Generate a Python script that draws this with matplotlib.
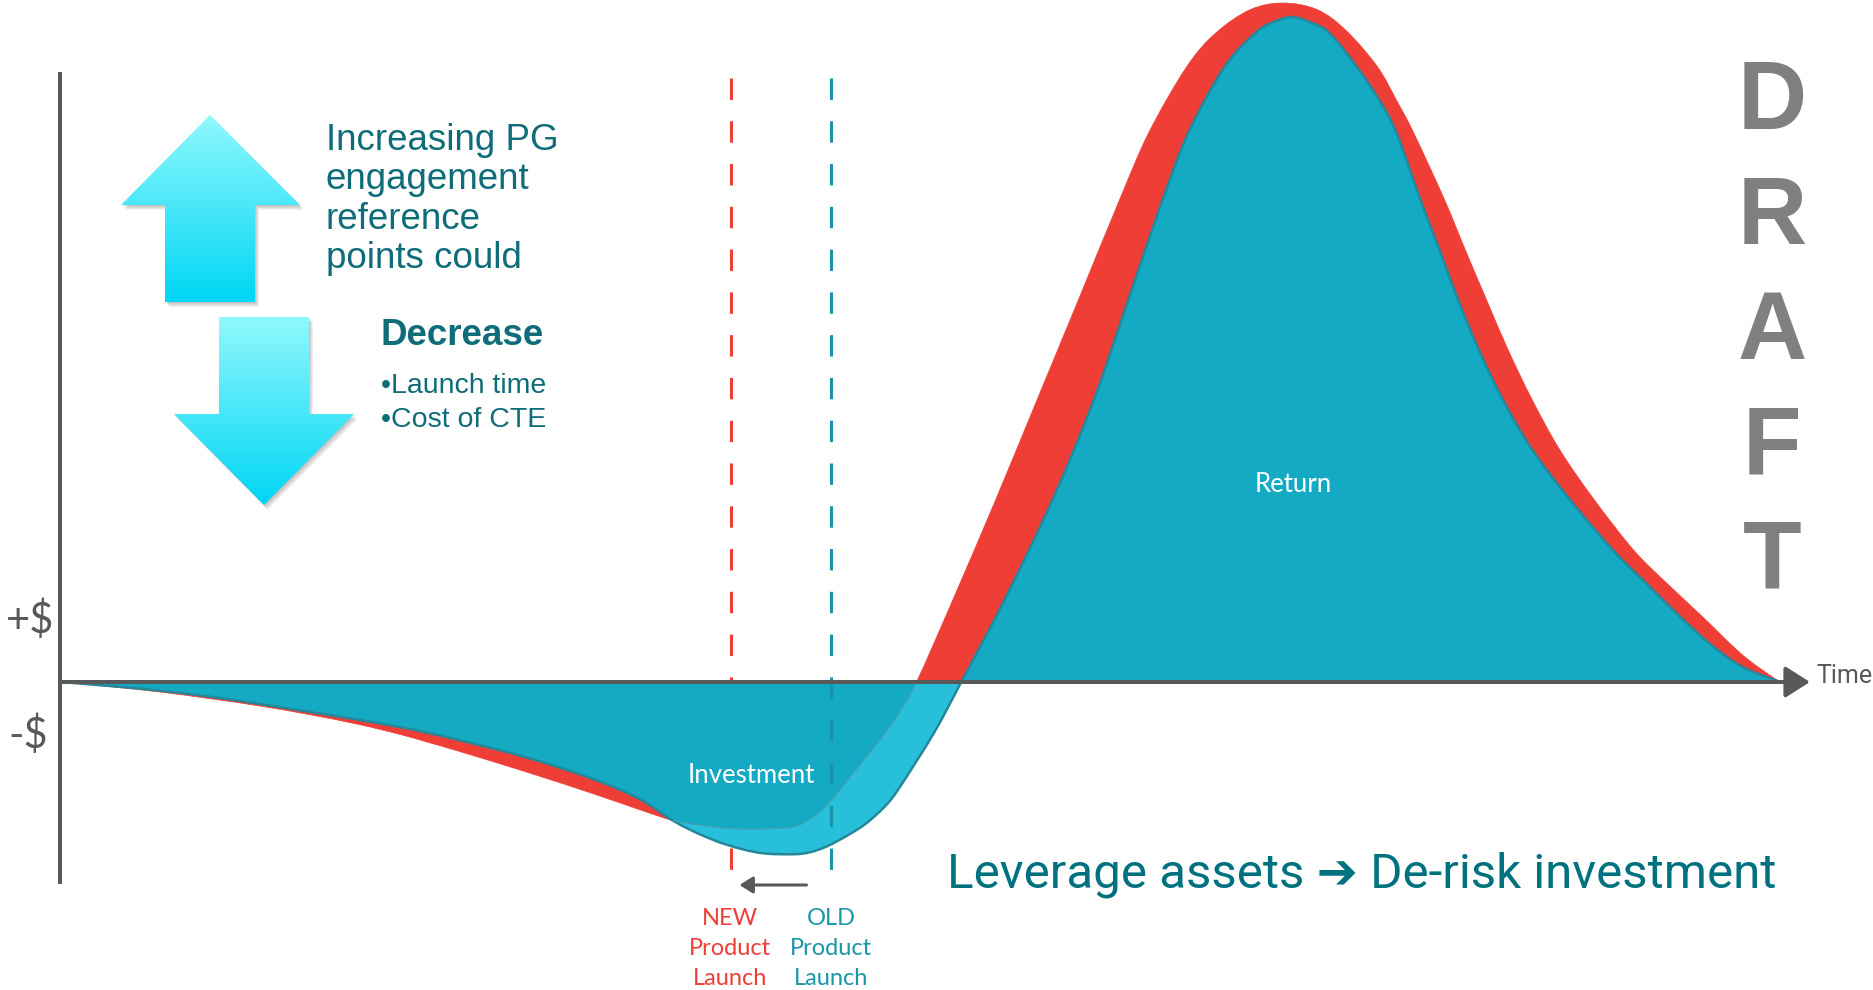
import numpy as np
import matplotlib
matplotlib.use('Agg')

import matplotlib.pyplot as plt
from matplotlib.patches import Polygon, FancyArrowPatch, PathPatch
from matplotlib.path import Path
from matplotlib.colors import LinearSegmentedColormap


# cash curves: time 0..100, value scaled so the old peak = 100
new_t = [0, 2.9, 5.8, 8.7, 11.6, 14.5, 17.4, 19.8, 21.3, 23.3, 27.2, 31.0, 33.7, 35.6,
         37.2, 38.8, 40.7, 42.6, 43.6, 44.6, 45.9, 46.9, 48.0, 48.8, 49.8, 51.9, 54.4,
         56.8, 59.2, 61.6, 63.3, 65.5, 67.2, 69.2, 71.1, 73.1, 74.8, 76.6, 77.7, 78.7,
         80.5, 81.7, 83.0, 84.2, 85.6, 87.2, 89.2, 91.5, 93.4, 95.5, 97.5, 98.7, 100]
new_v = [0, -0.7, -1.5, -2.5, -3.6, -4.9, -6.4, -7.9, -9.0, -10.5, -13.6, -16.8, -19.2, -20.8,
         -21.5, -22.0, -22.1, -21.8, -20.6, -18.5, -14.4, -11.2, -7.6, -4.6, 0, 12.3, 27.4,
         42.4, 57.4, 72.5, 82.6, 92.5, 97.6, 101.1, 102.1, 101.1, 97.9, 92.5, 87.5, 82.6,
         72.5, 65.0, 57.1, 49.9, 42.4, 34.9, 27.4, 19.8, 14.9, 9.8, 4.8, 2.3, 0]

old_t = [0, 2.9, 5.8, 8.7, 11.6, 14.5, 17.4, 19.8, 21.3, 23.3, 27.2, 31.0, 33.7, 35.6,
         37.2, 38.8, 40.7, 42.6, 43.6, 44.6, 45.9, 46.9, 48.0, 48.8, 50.8, 52.4, 54.9,
         57.7, 60.1, 62.1, 64.1, 65.6, 67.7, 69.5, 70.5, 71.6, 72.7, 73.8, 75.4, 76.7,
         77.7, 79.1, 80.2, 81.3, 82.5, 83.9, 85.6, 87.8, 90.3, 92.2, 94.2, 96.0, 97.8, 100]
old_v = [0, -0.6, -1.3, -2.2, -3.3, -4.5, -5.7, -6.8, -7.6, -8.8, -11.4, -14.6, -17.6, -20.8,
         -22.9, -24.5, -25.7, -25.9, -25.6, -24.7, -22.9, -21.2, -18.6, -15.9, -7.7, 0, 12.3,
         27.4, 42.4, 57.4, 72.5, 82.6, 92.5, 97.6, 99.2, 100, 99.2, 97.6, 92.5, 87.5,
         82.6, 72.5, 65.0, 57.4, 49.9, 42.4, 34.9, 27.4, 19.8, 14.9, 9.8, 5.6, 2.3, 0]

cross_t = 35.6      # where the two investment curves cross
launch_new = 39.0
launch_old = 44.8

new_label = ['NEW', 'Product', 'Launch']
old_label = ['OLD', 'Product', 'Launch']
intro_lines = ['Increasing PG', 'engagement', 'reference', 'points could']
decrease_items = ['•Launch time', '•Cost of CTE']
draft_word = 'DRAFT'

RED = '#ef3e36'
TEAL = '#14aac4'
CYAN = '#27bfd9'
EDGE = '#25889a'
AXIS = '#58595b'
TXT = '#0e6d78'
OLDTXT = '#1996a8'


def bezier_segments(t, v):
    # smooth cubic pieces through the read points (Catmull-Rom handles)
    p = np.column_stack([t, v]).astype(float)
    q = np.vstack([p[0], p, p[-1]])
    segs = []
    for i in range(len(p) - 1):
        a, b = q[i + 1], q[i + 2]
        segs.append((a, a + (q[i + 2] - q[i]) / 6, b - (q[i + 3] - q[i + 1]) / 6, b))
    return segs


def build_path(seg_lists, close=False):
    verts = [seg_lists[0][0][0]]
    codes = [Path.MOVETO]
    for segs in seg_lists:
        for a, c1, c2, b in segs:
            verts += [c1, c2, b]
            codes += [Path.CURVE4] * 3
    if close:
        verts.append(verts[0])
        codes.append(Path.CLOSEPOLY)
    return Path(verts, codes)


W, H = 1874, 990
fig = plt.figure(figsize=(W / 100, H / 100), dpi=100)

# chart axes: t=0 at px 60, t=100 at px 1780, v=0 at py 682
PX_T, PX_V, X0, Y0 = 17.2, 6.65, 60, 682
ax = fig.add_axes([0, 0, 1, 1])
ax.set_xlim(-X0 / PX_T, (W - X0) / PX_T)
ax.set_ylim(-(H - Y0) / PX_V, Y0 / PX_V)
ax.axis('off')

new_segs = bezier_segments(new_t, new_v)
old_segs = bezier_segments(old_t, old_v)
i_cross_new = new_t.index(cross_t)
i_cross_old = old_t.index(cross_t)
i_zero_new = [i for i in range(1, len(new_v) - 1) if new_v[i] == 0][0]
i_zero_old = [i for i in range(1, len(old_v) - 1) if old_v[i] == 0][0]

# new launch, whole area
ax.add_patch(PathPatch(build_path([new_segs], close=True), fc=RED, ec=RED, lw=0.5, zorder=2))
# old launch, investment lobe
ax.add_patch(PathPatch(build_path([old_segs[:i_zero_old]], close=True), fc=CYAN, ec=CYAN, lw=0.5, zorder=3))
# old launch, return lobe
ax.add_patch(PathPatch(build_path([old_segs[i_zero_old:]], close=True), fc=TEAL, ec=TEAL, lw=0.5, zorder=4))
# shared investment (shallower of both curves)
ax.add_patch(PathPatch(build_path([old_segs[:i_cross_old], new_segs[i_cross_new:i_zero_new]], close=True),
                       fc=TEAL, ec=TEAL, lw=0.5, zorder=4))

ax.add_patch(PathPatch(build_path([old_segs]), fc='none', ec=EDGE, lw=1.8, zorder=5))
ax.add_patch(PathPatch(build_path([new_segs[i_cross_new:i_zero_new]]), fc='none', ec='#4b9fae', lw=0.8, zorder=5))

# launch markers
v_top, v_bot = (Y0 - 78) / PX_V, (Y0 - 884) / PX_V
ax.plot([launch_new, launch_new], [v_top, v_bot], color=RED, lw=2.2, ls=(0, (7, 7)), zorder=1)
ax.plot([launch_old, launch_old], [v_top, v_bot], color='#1a93a6', lw=2.2, ls=(0, (7, 7)), zorder=6)

# axes
ax.plot([0, 0], [(Y0 - 72) / PX_V, v_bot], color=AXIS, lw=2.9, solid_capstyle='butt', zorder=7)
ax.add_patch(FancyArrowPatch((0, 0), ((1810 - X0) / PX_T, 0),
                             arrowstyle='-|>,head_length=15,head_width=9.5', mutation_scale=1,
                             color=AXIS, lw=2.9, shrinkA=0, shrinkB=0, zorder=7))
ax.add_patch(FancyArrowPatch((launch_old - 1.4, (Y0 - 885) / PX_V), (launch_new + 0.5, (Y0 - 885) / PX_V),
                             arrowstyle='-|>,head_length=8,head_width=5', mutation_scale=1,
                             color=AXIS, lw=2.2, shrinkA=0, shrinkB=0, zorder=7))

# overlay in pixel coordinates for the annotations
deco = fig.add_axes([0, 0, 1, 1])
deco.axis('off')
deco.patch.set_alpha(0)

up_arrow = [(210, 115), (300, 205), (255, 205), (255, 302), (165, 302), (165, 205), (121, 205)]
down_arrow = [(219, 317), (309, 317), (309, 414), (354, 414), (264, 505), (174, 414), (219, 414)]
cmap = LinearSegmentedColormap.from_list('arr', ['#90f8fc', '#00d6f5'])
grad = np.linspace(0, 1, 256).reshape(-1, 1)
for pts in (up_arrow, down_arrow):
    xs, ys = zip(*pts)
    for k in range(1, 6):
        deco.add_patch(Polygon([(x + k * 0.8, y + k * 1.0) for x, y in pts], closed=True,
                               fc='black', alpha=0.05, lw=0, zorder=1))
    poly = Polygon(pts, closed=True, fc='none', lw=0)
    deco.add_patch(poly)
    im = deco.imshow(grad, cmap=cmap, extent=(min(xs), max(xs), max(ys), min(ys)),
                     aspect='auto', origin='upper', zorder=2)
    im.set_clip_path(poly)

deco.set_xlim(0, W)
deco.set_ylim(H, 0)

sans = ['Liberation Sans', 'DejaVu Sans']
for i, line in enumerate(intro_lines):
    deco.text(326, 150 + 39.3 * i, line, ha='left', va='baseline', fontsize=26.5, color=TXT, family=sans)
deco.text(381, 345, 'Decrease', ha='left', va='baseline', fontsize=26.5, fontweight='bold', color=TXT, family=sans)
for i, line in enumerate(decrease_items):
    deco.text(381, 393 + 34 * i, line, ha='left', va='baseline', fontsize=20.5, color=TXT, family=sans)

deco.text(54, 620, '+$', ha='right', va='center', fontsize=30, color=AXIS, family='Lato')
deco.text(48, 735, '-$', ha='right', va='center', fontsize=30, color=AXIS, family='Lato')
deco.text(1816, 676, 'Time', ha='left', va='center', fontsize=18, color=AXIS, family='Roboto')

deco.text(751, 783, 'Investment', ha='center', va='baseline', fontsize=18.5, color='white', family='Lato')
deco.text(1293, 492, 'Return', ha='center', va='baseline', fontsize=18.5, color='white', family='Lato')

for i, (a, b) in enumerate(zip(new_label, old_label)):
    deco.text(730, 925 + 30 * i, a, ha='center', va='baseline', fontsize=17, color=RED, family='Lato')
    deco.text(831, 925 + 30 * i, b, ha='center', va='baseline', fontsize=17, color=OLDTXT, family='Lato')

deco.text(947, 888, 'Leverage assets ➔ De-risk investment', ha='left', va='baseline',
          fontsize=35.5, color='#00717e', family=['Roboto', 'DejaVu Sans'])

for i, ch in enumerate(draft_word):
    deco.text(1772, 129 + 115 * i, ch, ha='center', va='baseline', fontsize=69,
              fontweight='bold', color='#808080', family='Liberation Sans')

fig.savefig('out.png', dpi=100)
plt.close(fig)
